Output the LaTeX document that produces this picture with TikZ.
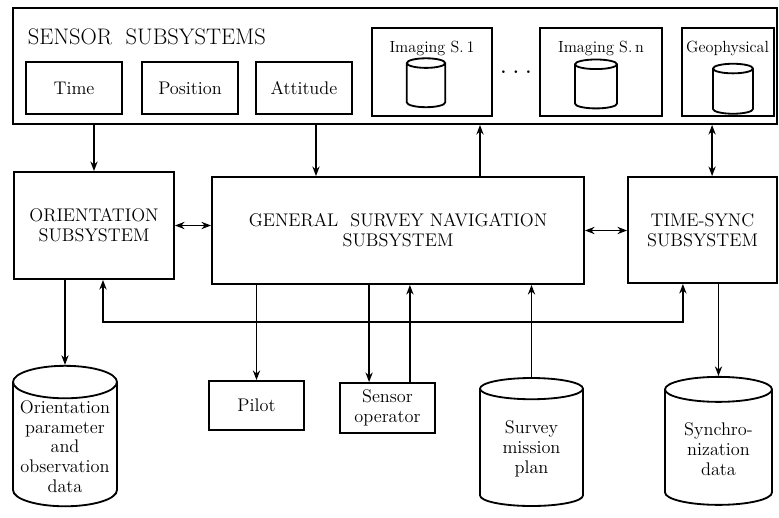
\documentclass[tikz,border=0pt]{standalone}
\usetikzlibrary{arrows.meta,positioning,shapes.geometric}

\begin{document}
\begin{tikzpicture}[>={Stealth[length=2.4mm,width=1.8mm]},line width=1.3pt,
 font=\fontsize{13}{14}\selectfont,
 blk/.style={draw,align=center,inner sep=2pt},
 sub/.style={draw,minimum width=2.4cm,minimum height=1.3cm},
 sbox/.style={draw,minimum height=2.2cm},
 slab/.style={font=\fontsize{11.5}{12}\selectfont,inner sep=0pt},
 db/.style={draw,cylinder,shape border rotate=90,aspect=0.35,align=center,inner sep=1pt},
 smalldb/.style={db,aspect=0.25,inner sep=0.48cm},
 hd/.style={font=\fontsize{16}{18}\selectfont,anchor=west,inner sep=0pt}]
\useasboundingbox (0,0) rectangle (19.475,-12.925);
% sensor subsystems
\node[draw,minimum width=19.1cm,minimum height=2.9cm] (sens) at (9.875,-1.65) {};
\node[hd] (title) at (0.675,-0.925) {SENSOR\ \ SUBSYSTEMS};
\node[sub] (time) at (1.85,-2.2) {Time};
\node[sub] (pos) at (4.75,-2.2) {Position};
\node[sub] (att) at (7.6,-2.2) {Attitude};
\node[sbox,minimum width=3cm] (img1) at (10.8,-1.8) {};
\node[sbox,minimum width=3.05cm] (imgn) at (15.025,-1.8) {};
\node[sbox,minimum width=2.3cm] (geo) at (18.19,-1.8) {};
\node[slab,below=0.33cm of img1.north] (img1lab) {Imaging S.\,1};
\node[slab,below=0.33cm of imgn.north] (imgnlab) {Imaging S.\,n};
\node[slab,below=0.33cm of geo.north] (geolab) {Geophysical};
\node[smalldb,minimum width=0.95cm,minimum height=1.15cm] (cyl1) at (10.65,-2.2) {};
\node[smalldb,minimum width=1.05cm,minimum height=1.175cm] (cyln) at (14.9,-2.23) {};
\node[smalldb,minimum width=1.0cm,minimum height=1.25cm] (cylg) at (18.325,-2.35) {};
\node[font=\bfseries\fontsize{13}{14}\selectfont,inner sep=0pt] (dots) at (12.9,-1.8) {.~.~.};
% subsystems
\node[blk,minimum width=4cm,minimum height=2.675cm] (orient) at (2.35,-5.6375) {ORIENTATION\\SUBSYSTEM};
\node[blk,minimum width=9.3cm,minimum height=2.675cm] (gen) at (9.95,-5.7625) {GENERAL\ \ SURVEY\ NAVIGATION\\SUBSYSTEM};
\node[blk,minimum width=3.725cm,minimum height=2.65cm] (tsync) at (17.5625,-5.75) {TIME-SYNC\\SUBSYSTEM};
% outputs and data
\node[blk,minimum width=2.375cm,minimum height=1.225cm] (pilot) at (6.4125,-10.1375) {Pilot};
\node[blk,minimum width=2.375cm,minimum height=1.25cm] (sensop) at (9.6875,-10.2) {Sensor\\operator};
\node[db,minimum width=2.6cm,minimum height=3.325cm] (odata) at (1.625,-11.1625) {Orientation\\parameter\\and\\observation\\data};
\node[db,minimum width=2.575cm,minimum height=3.2cm] (plan) at (13.2875,-11.225) {Survey\\mission\\plan};
\node[db,minimum width=2.675cm,minimum height=3.2cm] (sdata) at (17.9625,-11.225) {Synchro-\\nization\\data};
% connectors
\coordinate (attx) at ([xshift=0.3cm]att.south);
\coordinate (upx) at (12,0);
\coordinate (tsx) at ([xshift=0.24cm]tsync.north);
\coordinate (opin) at ([xshift=-0.46cm]sensop.north);
\coordinate (opout) at ([xshift=0.56cm]sensop.north);
\draw[->] (orient.north |- sens.south) -- (orient.north);
\draw[->] (attx |- sens.south) -- (attx |- gen.north);
\draw[->] (upx |- gen.north) -- (upx |- sens.south);
\draw[<->] (tsx) -- (tsx |- sens.south);
\draw[<->] (orient.east) -- (orient.east -| gen.west);
\draw[<->] (gen.east) -- (gen.east -| tsync.west);
\draw[<->] ([xshift=0.225cm]orient.south) -- ++(0,-1.05) -| ([xshift=-0.49cm]tsync.south);
\draw[->] (odata.north |- orient.south) -- (odata.north);
\draw[->] (pilot.north |- gen.south) -- (pilot.north);
\draw[->] (opin |- gen.south) -- (opin);
\draw[->] (opout) -- (opout |- gen.south);
\draw[->] (plan.north) -- (plan.north |- gen.south);
\draw[->] (sdata.north |- tsync.south) -- (sdata.north);
\end{tikzpicture}
\end{document}
